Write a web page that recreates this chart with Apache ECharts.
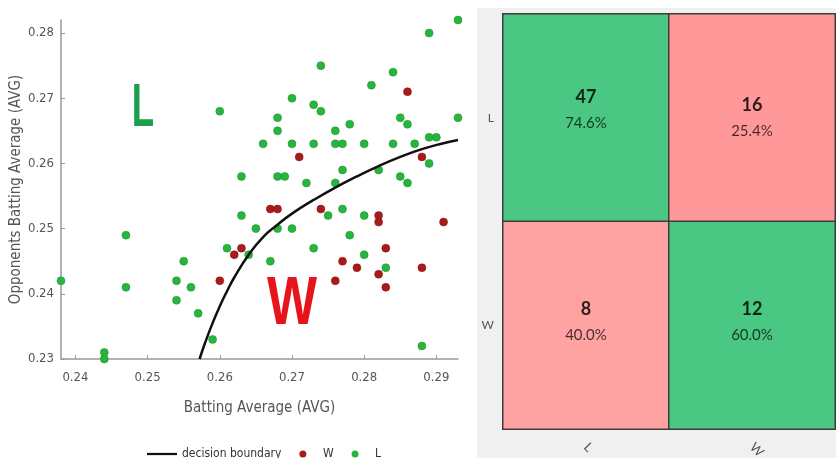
<!DOCTYPE html>
<html>
<head>
<meta charset="utf-8">
<script src="https://cdn.jsdelivr.net/npm/echarts@6/dist/echarts.min.js"></script>
<style>
  html, body { margin: 0; padding: 0; background: #fff; }
  #chart { width: 836px; height: 458px; }
</style>
</head>
<body>
<div id="chart"></div>
<script>
// scatter: batting average vs opponents batting average
const lossPoints = [
  [0.293, 0.282], [0.289, 0.280], [0.274, 0.275], [0.284, 0.274], [0.281, 0.272],
  [0.270, 0.270], [0.273, 0.269], [0.274, 0.268], [0.268, 0.267], [0.268, 0.265],
  [0.285, 0.267], [0.286, 0.266], [0.293, 0.267], [0.276, 0.265], [0.278, 0.266],
  [0.266, 0.263], [0.270, 0.263], [0.273, 0.263], [0.276, 0.263], [0.277, 0.263],
  [0.280, 0.263], [0.284, 0.263], [0.287, 0.263], [0.289, 0.264], [0.290, 0.264],
  [0.289, 0.260], [0.263, 0.258], [0.268, 0.258], [0.269, 0.258], [0.277, 0.259],
  [0.282, 0.259], [0.285, 0.258], [0.286, 0.257], [0.272, 0.257], [0.276, 0.257],
  [0.263, 0.252], [0.275, 0.252], [0.277, 0.253], [0.280, 0.252], [0.265, 0.250],
  [0.268, 0.250], [0.270, 0.250], [0.278, 0.249], [0.264, 0.246], [0.273, 0.247],
  [0.267, 0.245], [0.280, 0.246], [0.283, 0.244], [0.288, 0.232],
  [0.247, 0.249], [0.238, 0.242], [0.247, 0.241], [0.255, 0.245], [0.254, 0.242],
  [0.256, 0.241], [0.254, 0.239], [0.257, 0.237], [0.259, 0.233], [0.244, 0.231],
  [0.244, 0.230], [0.261, 0.247], [0.260, 0.268]
];
const winPoints = [
  [0.286, 0.271], [0.271, 0.261], [0.288, 0.261], [0.267, 0.253], [0.268, 0.253],
  [0.274, 0.253], [0.282, 0.252], [0.282, 0.251], [0.291, 0.251], [0.262, 0.246],
  [0.263, 0.247], [0.283, 0.247], [0.277, 0.245], [0.279, 0.244], [0.282, 0.243],
  [0.288, 0.244], [0.276, 0.242], [0.283, 0.241], [0.260, 0.242]
];
const boundaryPoints = [
  [0.2572, 0.2300], [0.2580, 0.2326], [0.2590, 0.2355], [0.2600, 0.2381],
  [0.2610, 0.2404], [0.2620, 0.2425], [0.2640, 0.2460], [0.2660, 0.2487],
  [0.2680, 0.2506], [0.2700, 0.2523], [0.2730, 0.2544], [0.2760, 0.2563],
  [0.2790, 0.2580], [0.2820, 0.2596], [0.2850, 0.2610], [0.2880, 0.2622],
  [0.2910, 0.2631], [0.2930, 0.2636]
];
const xTicks = [0.24, 0.25, 0.26, 0.27, 0.28, 0.29];
const yTicks = [0.23, 0.24, 0.25, 0.26, 0.27, 0.28];

// confusion matrix
const classLabels = ['L', 'W'];
const matrixCounts = [[47, 16], [8, 12]];
const matrixPercents = ['74.6%', '25.4%', '40.0%', '60.0%'];

const narrow = "'Liberation Sans Narrow', 'DejaVu Sans Condensed', sans-serif";
const cellFont = "Lato, 'Open Sans', sans-serif";

const heatData = [];
matrixCounts.forEach((row, r) => {
  row.forEach((v, c) => {
    heatData.push({
      value: [c, r, v],
      pct: matrixPercents[r * 2 + c],
      itemStyle: { color: r === c ? '#4ac782' : (r === 0 ? '#ff9898' : '#ffa2a2') },
      label: { offset: [0, r === 0 ? (c === 0 ? -9 : -1) : -4] }
    });
  });
});

const chart = echarts.init(document.getElementById('chart'));
chart.setOption({
  animation: false,
  backgroundColor: '#fff',
  graphic: [
    { type: 'rect', z: -10, shape: { x: 477, y: 8, width: 359, height: 450 }, style: { fill: '#f0f0f0' } },
    { type: 'text', x: 143, y: 109, scaleX: 0.6, z: 10,
      style: { text: 'L', font: 'bold 61px "Liberation Sans", sans-serif', fill: '#1d9e4c', align: 'center', verticalAlign: 'middle' } },
    { type: 'text', x: 292, y: 305, scaleX: 0.78, z: 10,
      style: { text: 'W', font: 'bold 68px "Liberation Sans", sans-serif', fill: '#e8141c', align: 'center', verticalAlign: 'middle' } }
  ],
  legend: {
    left: 142, top: 443,
    itemGap: 18, itemWidth: 30, itemHeight: 7,
    textStyle: { color: '#333', fontSize: 12, fontFamily: narrow },
    itemStyle: { borderWidth: 0 },
    data: [
      { name: 'decision boundary', icon: 'path://M0 0H40V3H0Z' },
      { name: 'W', icon: 'circle' },
      { name: 'L', icon: 'circle' }
    ]
  },
  grid: [
    { left: 61, right: 378, top: 20, bottom: 99, outerBoundsMode: 'none' },
    { left: 503, right: 1, top: 14, bottom: 29, outerBoundsMode: 'none' }
  ],
  xAxis: [
    {
      gridIndex: 0, type: 'value', min: 0.238, max: 0.293,
      name: 'Batting Average (AVG)', nameLocation: 'middle', nameGap: 42,
      nameTextStyle: { color: '#555', fontSize: 15, fontFamily: narrow },
      axisLine: { lineStyle: { color: '#999', width: 1.5 } },
      axisTick: { show: true, inside: true, length: 4, customValues: xTicks, lineStyle: { color: '#999' } },
      axisLabel: { customValues: xTicks, color: '#555', fontSize: 13, fontFamily: narrow, margin: 12,
        formatter: v => v.toFixed(2) },
      splitLine: { show: false }
    },
    {
      gridIndex: 1, type: 'category', data: classLabels,
      axisLine: { show: false }, axisTick: { show: false },
      axisLabel: { color: '#555', fontSize: 13, rotate: -45, margin: 16, fontFamily: cellFont }
    }
  ],
  yAxis: [
    {
      gridIndex: 0, type: 'value', min: 0.23, max: 0.282,
      name: 'Opponents Batting Average (AVG)', nameLocation: 'middle', nameGap: 37,
      nameTextStyle: { color: '#555', fontSize: 15, fontFamily: narrow },
      axisLine: { show: true, lineStyle: { color: '#999', width: 1.5 } },
      axisTick: { show: true, inside: true, length: 4, customValues: yTicks, lineStyle: { color: '#999' } },
      axisLabel: { customValues: yTicks, color: '#555', fontSize: 13, fontFamily: narrow, margin: 7,
        formatter: v => v.toFixed(2) },
      splitLine: { show: false }
    },
    {
      gridIndex: 1, type: 'category', data: classLabels, inverse: true,
      axisLine: { show: false }, axisTick: { show: false },
      axisLabel: { color: '#555', fontSize: 12, margin: 9, fontFamily: cellFont }
    }
  ],
  series: [
    {
      name: 'decision boundary', type: 'line', xAxisIndex: 0, yAxisIndex: 0,
      data: boundaryPoints, smooth: true, showSymbol: false, symbol: 'none',
      lineStyle: { color: '#111', width: 2.5 }, itemStyle: { color: '#111' }, z: 4
    },
    {
      name: 'W', type: 'scatter', xAxisIndex: 0, yAxisIndex: 0,
      data: winPoints, symbolSize: 8, clip: false,
      itemStyle: { color: '#a81b1b', borderColor: '#8a1414', borderWidth: 0.5, opacity: 1 }, z: 3
    },
    {
      name: 'L', type: 'scatter', xAxisIndex: 0, yAxisIndex: 0,
      data: lossPoints, symbolSize: 8, clip: false,
      itemStyle: { color: '#27b53e', borderColor: '#1c8f30', borderWidth: 0.5, opacity: 1 }, z: 3
    },
    {
      type: 'heatmap', xAxisIndex: 1, yAxisIndex: 1, data: heatData,
      itemStyle: { borderColor: '#3c3c3c', borderWidth: 1.5 },
      label: {
        show: true,
        formatter: p => '{a|' + p.value[2] + '}\n{b|' + p.data.pct + '}',
        rich: {
          a: { fontSize: 18, fontWeight: 'bold', color: 'rgba(0,0,0,0.82)', fontFamily: cellFont, lineHeight: 28 },
          b: { fontSize: 15, color: 'rgba(0,0,0,0.72)', fontFamily: cellFont, lineHeight: 24 }
        }
      },
      emphasis: { disabled: true }
    }
  ]
});
</script>
</body>
</html>
